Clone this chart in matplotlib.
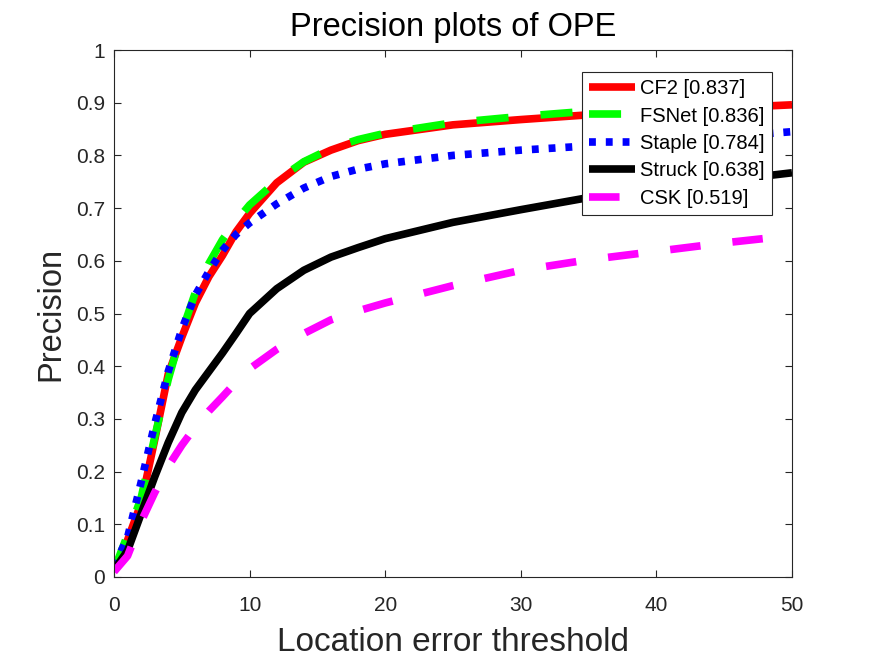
import matplotlib
matplotlib.use("Agg")
import matplotlib.pyplot as plt

plt.rcParams['font.family'] = ['Liberation Sans', 'DejaVu Sans']

thresholds = [0, 1, 2, 3, 4, 5, 6, 7, 8, 9, 10, 12, 14, 16, 18, 20, 25, 30, 35, 40, 45, 50]

cf2 = [0.013, 0.07, 0.14, 0.26, 0.385, 0.455, 0.52, 0.57, 0.61, 0.655, 0.69,
       0.748, 0.787, 0.81, 0.828, 0.84, 0.858, 0.868, 0.877, 0.884, 0.89, 0.896]
fsnet = [0.013, 0.08, 0.15, 0.265, 0.375, 0.465, 0.54, 0.595, 0.64, 0.675, 0.706,
         0.752, 0.788, 0.813, 0.83, 0.842, 0.862, 0.874, 0.884, 0.891, 0.897, 0.902]
staple = [0.02, 0.075, 0.18, 0.29, 0.39, 0.47, 0.535, 0.58, 0.62, 0.65, 0.672,
          0.708, 0.738, 0.76, 0.774, 0.784, 0.80, 0.81, 0.818, 0.826, 0.835, 0.845]
struck = [0.013, 0.05, 0.12, 0.19, 0.255, 0.312, 0.355, 0.39, 0.425, 0.462, 0.50,
          0.547, 0.582, 0.607, 0.625, 0.642, 0.673, 0.697, 0.72, 0.737, 0.752, 0.767]
csk = [0.01, 0.04, 0.105, 0.16, 0.21, 0.25, 0.285, 0.315, 0.342, 0.37, 0.395,
       0.432, 0.462, 0.488, 0.505, 0.52, 0.553, 0.582, 0.602, 0.618, 0.634, 0.648]

labels = ['CF2 [0.837]', 'FSNet [0.836]', 'Staple [0.784]', 'Struck [0.638]', 'CSK [0.519]']
colors = ['#ff0000', '#00ff00', '#0000ff', '#000000', '#ff00ff']
series = [cf2, fsnet, staple, struck, csk]
styles = [None, (0, (4.2, 4.2)), (0, (0.9, 1.3)), None, (0, (4.0, 4.2))]

fig = plt.figure(figsize=(8.75, 6.56), dpi=100)
ax = fig.add_axes([114/875, 79/656, 678/875, 527/656])

lw = 5.5
for vals, lab, col, st in zip(series, labels, colors, styles):
    if st is None:
        ax.plot(thresholds, vals, color=col, lw=lw, label=lab, solid_capstyle='butt')
    else:
        ax.plot(thresholds, vals, color=col, lw=lw, label=lab, linestyle=st,
                dash_capstyle='butt')

ax.set_xlim(0, 50)
ax.set_ylim(0, 1)
ax.set_xticks([0, 10, 20, 30, 40, 50])
ax.set_yticks([i / 10 for i in range(11)])
ax.set_yticklabels(['0', '0.1', '0.2', '0.3', '0.4', '0.5', '0.6', '0.7', '0.8', '0.9', '1'])

axc = '#262626'
for sp in ax.spines.values():
    sp.set_color(axc)
    sp.set_linewidth(0.8)
ax.tick_params(direction='in', length=5, width=0.8, colors=axc, labelsize=15,
               top=True, right=True)
ax.tick_params(axis='x', pad=14)
ax.tick_params(axis='y', pad=6.5)

ax.set_title('Precision plots of OPE', fontsize=23.5, color='black', pad=10)
ax.set_xlabel('Location error threshold', fontsize=24, color=axc, labelpad=8)
ax.set_ylabel('Precision', fontsize=23.5, color=axc, labelpad=7)

leg = ax.legend(loc='upper right', bbox_to_anchor=((772-114)/678, (577-72)/527),
                borderaxespad=0, fontsize=14.5, handlelength=2.3, handletextpad=0.25,
                labelspacing=0.42, borderpad=0.35, fancybox=False, framealpha=1,
                handleheight=0.7)
leg.get_frame().set_edgecolor(axc)
leg.get_frame().set_linewidth(0.8)

fig.savefig('out.png', dpi=100)
